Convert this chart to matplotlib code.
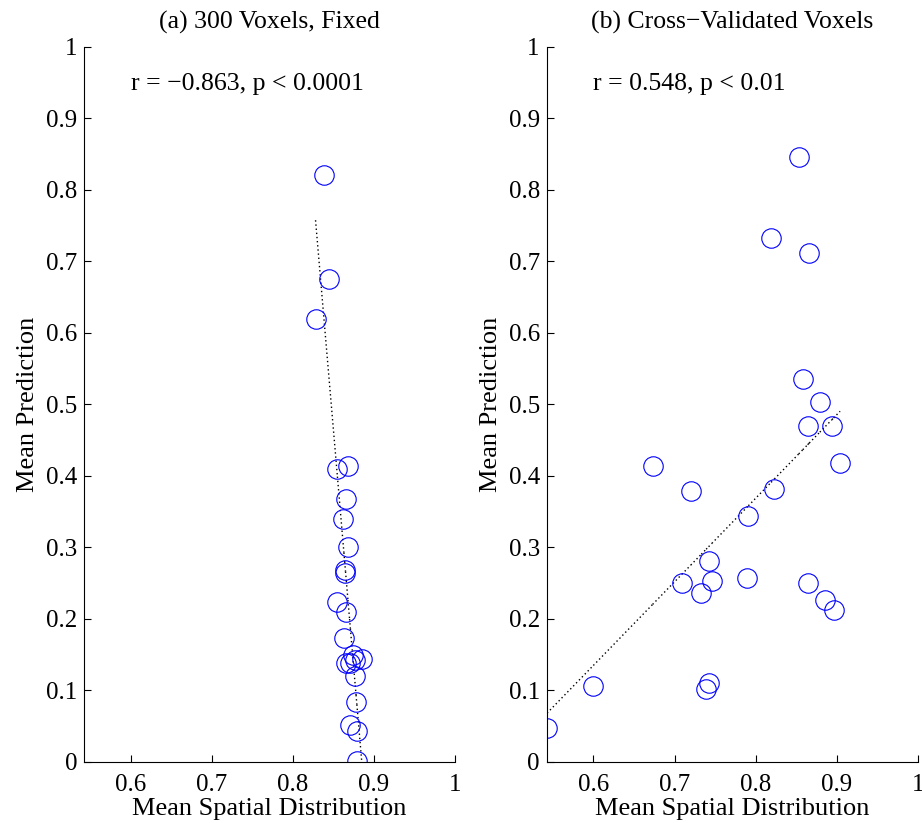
import numpy as np
import matplotlib
matplotlib.use("Agg")
import matplotlib.pyplot as plt
from matplotlib.collections import LineCollection

plt.rcParams['font.family'] = ['Liberation Serif', 'DejaVu Serif']

# (a) 300 voxels, fixed
fixed_x = [0.838, 0.845, 0.828, 0.855, 0.868, 0.865, 0.862, 0.868, 0.864, 0.864,
           0.855, 0.866, 0.863, 0.874, 0.885, 0.866, 0.870, 0.877, 0.877, 0.878,
           0.871, 0.879, 0.879]
fixed_y = [0.820, 0.675, 0.619, 0.409, 0.414, 0.368, 0.339, 0.300, 0.268, 0.264,
           0.223, 0.209, 0.173, 0.149, 0.143, 0.138, 0.138, 0.142, 0.120, 0.083,
           0.051, 0.043, 0.001]

# (b) cross-validated voxels
cv_x = [0.853, 0.819, 0.866, 0.858, 0.879, 0.865, 0.894, 0.904, 0.673, 0.720,
        0.823, 0.791, 0.742, 0.746, 0.709, 0.733, 0.789, 0.864, 0.886, 0.896,
        0.742, 0.739, 0.600, 0.543]
cv_y = [0.846, 0.733, 0.712, 0.535, 0.503, 0.469, 0.469, 0.418, 0.414, 0.379,
        0.381, 0.344, 0.280, 0.253, 0.250, 0.236, 0.257, 0.250, 0.226, 0.212,
        0.110, 0.102, 0.106, 0.047]

titles = ['(a) 300 Voxels, Fixed', '(b) Cross\u2212Validated Voxels']
stats = ['r = \u22120.863, p < 0.0001', 'r = 0.548, p < 0.01']

xticks = [0.6, 0.7, 0.8, 0.9, 1.0]
xtick_labels = ['0.6', '0.7', '0.8', '0.9', '1']
yticks = [0, 0.1, 0.2, 0.3, 0.4, 0.5, 0.6, 0.7, 0.8, 0.9, 1.0]
ytick_labels = ['0', '0.1', '0.2', '0.3', '0.4', '0.5', '0.6', '0.7', '0.8', '0.9', '1']

fig = plt.figure(figsize=(9.22, 8.23), dpi=100)
ax1 = fig.add_axes([0.0914, 0.0745, 0.402, 0.8688])
ax2 = fig.add_axes([0.593, 0.0745, 0.4027, 0.8688])

for ax, x, y, title, stat in zip([ax1, ax2], [fixed_x, cv_x], [fixed_y, cv_y],
                                 titles, stats):
    x = np.array(x)
    y = np.array(y)

    # least squares fit, drawn piecewise between sorted x so the dots restart
    b, a = np.polyfit(x, y, 1)
    xs = np.sort(x)
    ys = a + b * xs
    segs = [[(xs[i], ys[i]), (xs[i + 1], ys[i + 1])] for i in range(len(xs) - 1)]
    lc = LineCollection(segs, colors='k', linewidths=1.0, linestyles=[(0, (1, 2))])
    ax.add_collection(lc)

    ax.plot(x, y, 'o', mfc='none', mec='#0000ff', ms=14, mew=0.8)

    ax.text(0.6, 0.948, stat, fontsize=18.5, ha='left', va='center')
    ax.set_title(title, fontsize=18.5, pad=13)

    ax.set_xlim(0.5426, 1.0)
    ax.set_ylim(0, 1)
    ax.set_xticks(xticks)
    ax.set_xticklabels(xtick_labels)
    ax.set_yticks(yticks)
    ax.set_yticklabels(ytick_labels)
    ax.tick_params(direction='in', length=5, width=0.8, labelsize=18, pad=5)
    ax.tick_params(axis='x', pad=9)
    ax.spines['top'].set_visible(False)
    ax.spines['right'].set_visible(False)
    for s in ['left', 'bottom']:
        ax.spines[s].set_linewidth(0.8)
    ax.set_xlabel('Mean Spatial Distribution', fontsize=19, labelpad=1)
    ax.set_ylabel('Mean Prediction', fontsize=19, labelpad=5)

fig.savefig('out.png', dpi=100)
